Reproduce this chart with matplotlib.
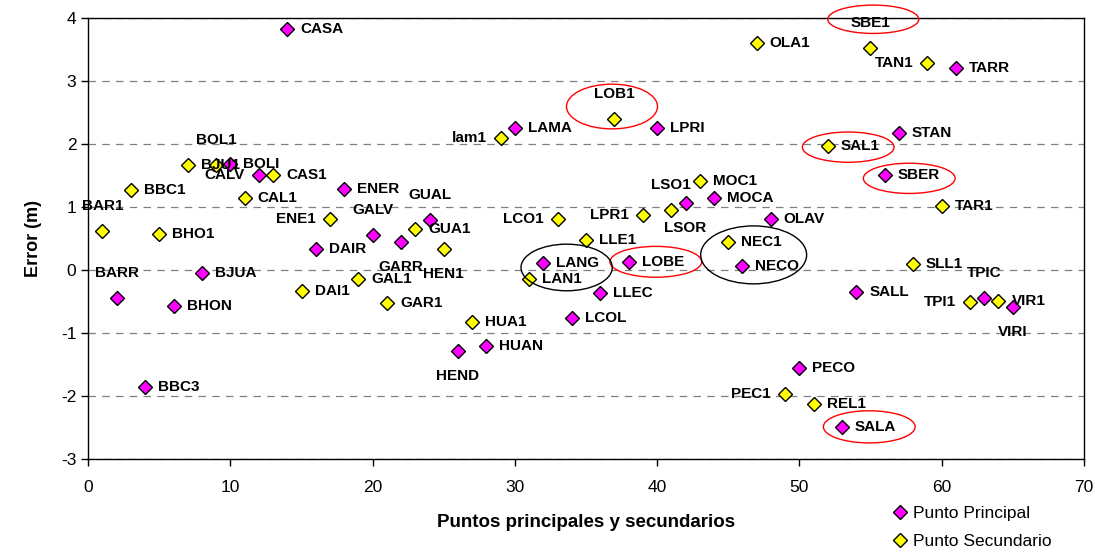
import matplotlib
matplotlib.use("Agg")
import matplotlib.pyplot as plt
from matplotlib.lines import Line2D
from matplotlib.patches import Ellipse

plt.rcParams['font.family'] = ['Liberation Sans', 'DejaVu Sans']
plt.rcParams['axes.unicode_minus'] = False

# Principal points
principal_names = ["BARR", "BBC3", "BHON", "BJUA", "BOLI", "CALV", "CASA", "DAIR", "ENER", "GALV",
                   "GARR", "GUAL", "HEND", "HUAN", "LAMA", "LANG", "LCOL", "LLEC", "LOBE", "LPRI",
                   "LSOR", "MOCA", "NECO", "OLAV", "PECO", "SALA", "SALL", "SBER", "STAN", "TARR",
                   "TPIC", "VIRI"]
principal_x = [2, 4, 6, 8, 10, 12, 14, 16, 18, 20,
               22, 24, 26, 28, 30, 32, 34, 36, 38, 40,
               42, 44, 46, 48, 50, 53, 54, 56, 57, 61,
               63, 65]
principal_y = [-0.45, -1.86, -0.57, -0.04, 1.68, 1.51, 3.83, 0.33, 1.28, 0.56,
               0.44, 0.79, -1.28, -1.21, 2.26, 0.11, -0.77, -0.37, 0.13, 2.26,
               1.06, 1.14, 0.07, 0.81, -1.55, -2.49, -0.35, 1.51, 2.18, 3.20,
               -0.44, -0.58]

# Secondary points
secondary_names = ["BAR1", "BBC1", "BHO1", "BJU1", "BOL1", "CAL1", "CAS1", "DAI1", "ENE1", "GAL1",
                   "GAR1", "GUA1", "HEN1", "HUA1", "lam1", "LAN1", "LCO1", "LLE1", "LOB1", "LPR1",
                   "LSO1", "MOC1", "NEC1", "OLA1", "PEC1", "REL1", "SAL1", "SBE1", "SLL1", "TAN1",
                   "TAR1", "TPI1", "VIR1"]
secondary_x = [1, 3, 5, 7, 9, 11, 13, 15, 17, 19,
               21, 23, 25, 27, 29, 31, 33, 35, 37, 39,
               41, 43, 45, 47, 49, 51, 52, 55, 58, 59,
               60, 62, 64]
secondary_y = [0.62, 1.27, 0.57, 1.67, 1.66, 1.15, 1.51, -0.33, 0.81, -0.14,
               -0.52, 0.65, 0.34, -0.82, 2.09, -0.14, 0.81, 0.48, 2.40, 0.88,
               0.95, 1.41, 0.44, 3.61, -1.97, -2.12, 1.97, 3.53, 0.09, 3.28,
               1.02, -0.51, -0.49]

legend_labels = ["Punto Principal", "Punto Secundario"]
x_label = "Puntos principales y secundarios"
y_label = "Error (m)"

# label placement (default: right)
label_pos = {
    "BOL1": "a", "BAR1": "a", "GALV": "a", "GUAL": "a", "BARR": "a", "LOB1": "a",
    "LSO1": "a", "SBE1": "a", "TPIC": "a",
    "GARR": "b", "HEN1": "b", "HEND": "b", "LSOR": "b", "VIRI": "b",
    "CALV": "l", "ENE1": "l", "lam1": "l", "LCO1": "l", "LPR1": "l", "PEC1": "l",
    "TAN1": "l", "TPI1": "l",
}

# highlight ellipses: (point name, dx, dy, width, height, colour)
highlights = [
    ("LOB1", -0.17, 0.195, 6.4, 0.71, "#FF0000"),
    ("SBE1", 0.2, 0.45, 6.4, 0.45, "#FF0000"),
    ("SAL1", 1.44, -0.02, 6.45, 0.48, "#FF0000"),
    ("SBER", 1.73, -0.055, 6.45, 0.48, "#FF0000"),
    ("LOBE", 1.91, 0.0, 6.45, 0.49, "#FF0000"),
    ("SALA", 1.92, 0.0, 6.45, 0.51, "#FF0000"),
    ("LANG", 1.64, -0.07, 6.42, 0.74, "#000000"),
    ("NECO", 0.79, 0.17, 7.45, 0.92, "#000000"),
]

fig = plt.figure(figsize=(10.95, 5.56), dpi=100)
ax = fig.add_axes([0.0806, 0.1745, 0.9091, 0.7931])

ms = 6.8
ax.plot(principal_x, principal_y, linestyle="none", marker="D", markersize=ms,
        markerfacecolor="#FF00FF", markeredgecolor="black", markeredgewidth=1.0, zorder=4,
        clip_on=False)
ax.plot(secondary_x, secondary_y, linestyle="none", marker="D", markersize=ms,
        markerfacecolor="#FFFF00", markeredgecolor="black", markeredgewidth=1.0, zorder=4,
        clip_on=False)

offsets = {"r": ((13, 0), "left", "center"),
           "l": ((-14, 0), "right", "center"),
           "a": ((0, 25), "center", "center"),
           "b": ((0, -25), "center", "center")}

coords = {}
for names, xs, ys in ((principal_names, principal_x, principal_y),
                      (secondary_names, secondary_x, secondary_y)):
    for n, x, y in zip(names, xs, ys):
        coords[n] = (x, y)
        off, ha, va = offsets[label_pos.get(n, "r")]
        ax.annotate(n, (x, y), xytext=off, textcoords="offset pixels",
                    ha=ha, va=va, fontsize=11, fontweight="bold", color="black",
                    zorder=5, annotation_clip=False)

for n, dx, dy, w, h, c in highlights:
    x, y = coords[n]
    e = Ellipse((x + dx, y + dy), w, h, fill=False, edgecolor=c, linewidth=1.0,
                clip_on=False, zorder=6)
    ax.add_patch(e)

ax.set_xlim(0, 70)
ax.set_ylim(-3, 4)
ax.set_xticks(range(0, 71, 10))
ax.set_yticks(range(-3, 5))
ax.yaxis.grid(True, color="#808080", linestyle=(0, (6, 5)), linewidth=0.9)
ax.set_axisbelow(True)
for s in ax.spines.values():
    s.set_color("black")
    s.set_linewidth(1.0)
ax.tick_params(axis="both", direction="out", length=5, width=1, labelsize=12.5, colors="black")
ax.tick_params(axis="x", pad=10)

ax.set_xlabel(x_label, fontsize=13.5, fontweight="bold", labelpad=14)
ax.set_ylabel(y_label, fontsize=13, fontweight="bold", labelpad=14)

handles = [Line2D([], [], linestyle="none", marker="D", markersize=ms,
                  markerfacecolor="#FF00FF", markeredgecolor="black", markeredgewidth=1.0),
           Line2D([], [], linestyle="none", marker="D", markersize=ms,
                  markerfacecolor="#FFFF00", markeredgecolor="black", markeredgewidth=1.0)]
fig.legend(handles, legend_labels, loc="upper left", bbox_to_anchor=(0.816, 0.09),
           frameon=False, fontsize=12.5, handlelength=0.8, handletextpad=0.3,
           labelspacing=0.75, borderpad=0, borderaxespad=0)

fig.savefig("out.png", dpi=100)
